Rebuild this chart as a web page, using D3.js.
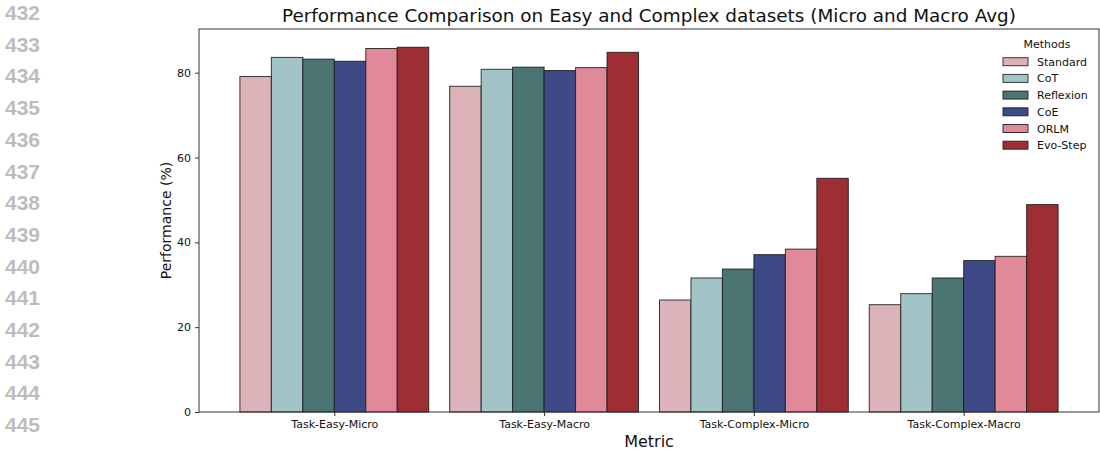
<!DOCTYPE html>
<html>
<head>
<meta charset="utf-8">
<script src="https://cdn.jsdelivr.net/npm/d3@7"></script>
<style>
  body { margin: 0; background: #fff; }
  svg { display: block; font-family: "DejaVu Sans", sans-serif; }
</style>
</head>
<body>
<svg id="chart" width="1100" height="450"></svg>
<script>
/********/
/* data */
/********/

const metrics = ["Task-Easy-Micro", "Task-Easy-Macro", "Task-Complex-Micro", "Task-Complex-Macro"];
const methods = ["Standard", "CoT", "Reflexion", "CoE", "ORLM", "Evo-Step"];
const colours = ["#dbb3b8", "#a3c4c6", "#4a7572", "#3e4a85", "#e08a99", "#9e2d34"];

const standard = [79.1, 76.8, 26.4, 25.3];
const cot = [83.6, 80.8, 31.6, 27.9];
const reflexion = [83.2, 81.3, 33.7, 31.6];
const coe = [82.7, 80.5, 37.1, 35.7];
const orlm = [85.7, 81.2, 38.4, 36.7];
const evoStep = [86.0, 84.8, 55.1, 48.9];
const seriesValues = [standard, cot, reflexion, coe, orlm, evoStep];

const yTicks = [0, 20, 40, 60, 80];
const lineNumbers = ["432", "433", "434", "435", "436", "437", "438", "439", "440", "441", "442", "443", "444", "445"];

/********/
/* view */
/********/

const svg = d3.select("#chart");
const margin = { left: 199, right: 1099, top: 29, bottom: 412 };

// margin line numbers
svg
  .append("g")
  .selectAll("text")
  .data(lineNumbers)
  .enter()
  .append("text")
  .attr("x", 5)
  .attr("y", (d, i) => 20 + i * 31.7)
  .attr("font-family", "Liberation Sans, Arial, sans-serif")
  .attr("font-weight", "bold")
  .attr("font-size", 21)
  .attr("fill", "#bdbdbd")
  .text(d => d);

const x = d3.scaleLinear().domain([-0.645, 3.645]).range([margin.left, margin.right]);
const y = d3.scaleLinear().domain([0, 90.3]).range([margin.bottom, margin.top]);

const groupWidth = 0.9;
const barWidth = groupWidth / methods.length;

// bars
methods.forEach((method, j) => {
  svg
    .append("g")
    .selectAll("rect")
    .data(seriesValues[j])
    .enter()
    .append("rect")
    .attr("x", (d, i) => x(i - groupWidth / 2 + j * barWidth))
    .attr("y", d => y(d))
    .attr("width", x(barWidth) - x(0))
    .attr("height", d => y(0) - y(d))
    .attr("fill", colours[j])
    .attr("stroke", "#1a1a1a")
    .attr("stroke-opacity", 0.85)
    .attr("stroke-width", 1);
});

// frame
svg
  .append("rect")
  .attr("x", margin.left)
  .attr("y", margin.top)
  .attr("width", margin.right - margin.left)
  .attr("height", margin.bottom - margin.top)
  .attr("fill", "none")
  .attr("stroke", "#333")
  .attr("stroke-width", 1);

// axes
const yAxis = svg
  .append("g")
  .attr("transform", `translate(${margin.left},0)`)
  .call(d3.axisLeft(y).tickValues(yTicks).tickSize(4).tickPadding(4));
yAxis.select(".domain").remove();
yAxis.selectAll("text").attr("font-size", 11).attr("fill", "#111").attr("font-family", "DejaVu Sans");
yAxis.selectAll("line").attr("stroke", "#333");

const xAxis = svg
  .append("g")
  .attr("transform", `translate(0,${margin.bottom})`)
  .call(
    d3
      .axisBottom(x)
      .tickValues(d3.range(metrics.length))
      .tickFormat(i => metrics[i])
      .tickSize(4)
      .tickPadding(4),
  );
xAxis.select(".domain").remove();
xAxis.selectAll("text").attr("font-size", 11).attr("fill", "#111").attr("font-family", "DejaVu Sans");
xAxis.selectAll("line").attr("stroke", "#333");

// titles
svg
  .append("text")
  .attr("x", (margin.left + margin.right) / 2)
  .attr("y", 22)
  .attr("text-anchor", "middle")
  .attr("font-size", 18.4)
  .attr("fill", "#111")
  .text("Performance Comparison on Easy and Complex datasets (Micro and Macro Avg)");

svg
  .append("text")
  .attr("transform", `translate(171,${(margin.top + margin.bottom) / 2}) rotate(-90)`)
  .attr("text-anchor", "middle")
  .attr("font-size", 14)
  .attr("fill", "#111")
  .text("Performance (%)");

svg
  .append("text")
  .attr("x", (margin.left + margin.right) / 2)
  .attr("y", 447)
  .attr("text-anchor", "middle")
  .attr("font-size", 16)
  .attr("fill", "#111")
  .text("Metric");

// legend
const legend = svg.append("g");
legend
  .append("text")
  .attr("x", 1047)
  .attr("y", 48)
  .attr("text-anchor", "middle")
  .attr("font-size", 11)
  .attr("fill", "#111")
  .text("Methods");

methods.forEach((method, j) => {
  const row = legend.append("g").attr("transform", `translate(0,${61.7 + j * 16.7})`);
  row
    .append("rect")
    .attr("x", 1003)
    .attr("y", -4)
    .attr("width", 25)
    .attr("height", 8)
    .attr("fill", colours[j])
    .attr("stroke", "#1a1a1a")
    .attr("stroke-opacity", 0.85)
    .attr("stroke-width", 1);
  row
    .append("text")
    .attr("x", 1037)
    .attr("y", 4)
    .attr("font-size", 11)
    .attr("fill", "#111")
    .text(method);
});
</script>
</body>
</html>
